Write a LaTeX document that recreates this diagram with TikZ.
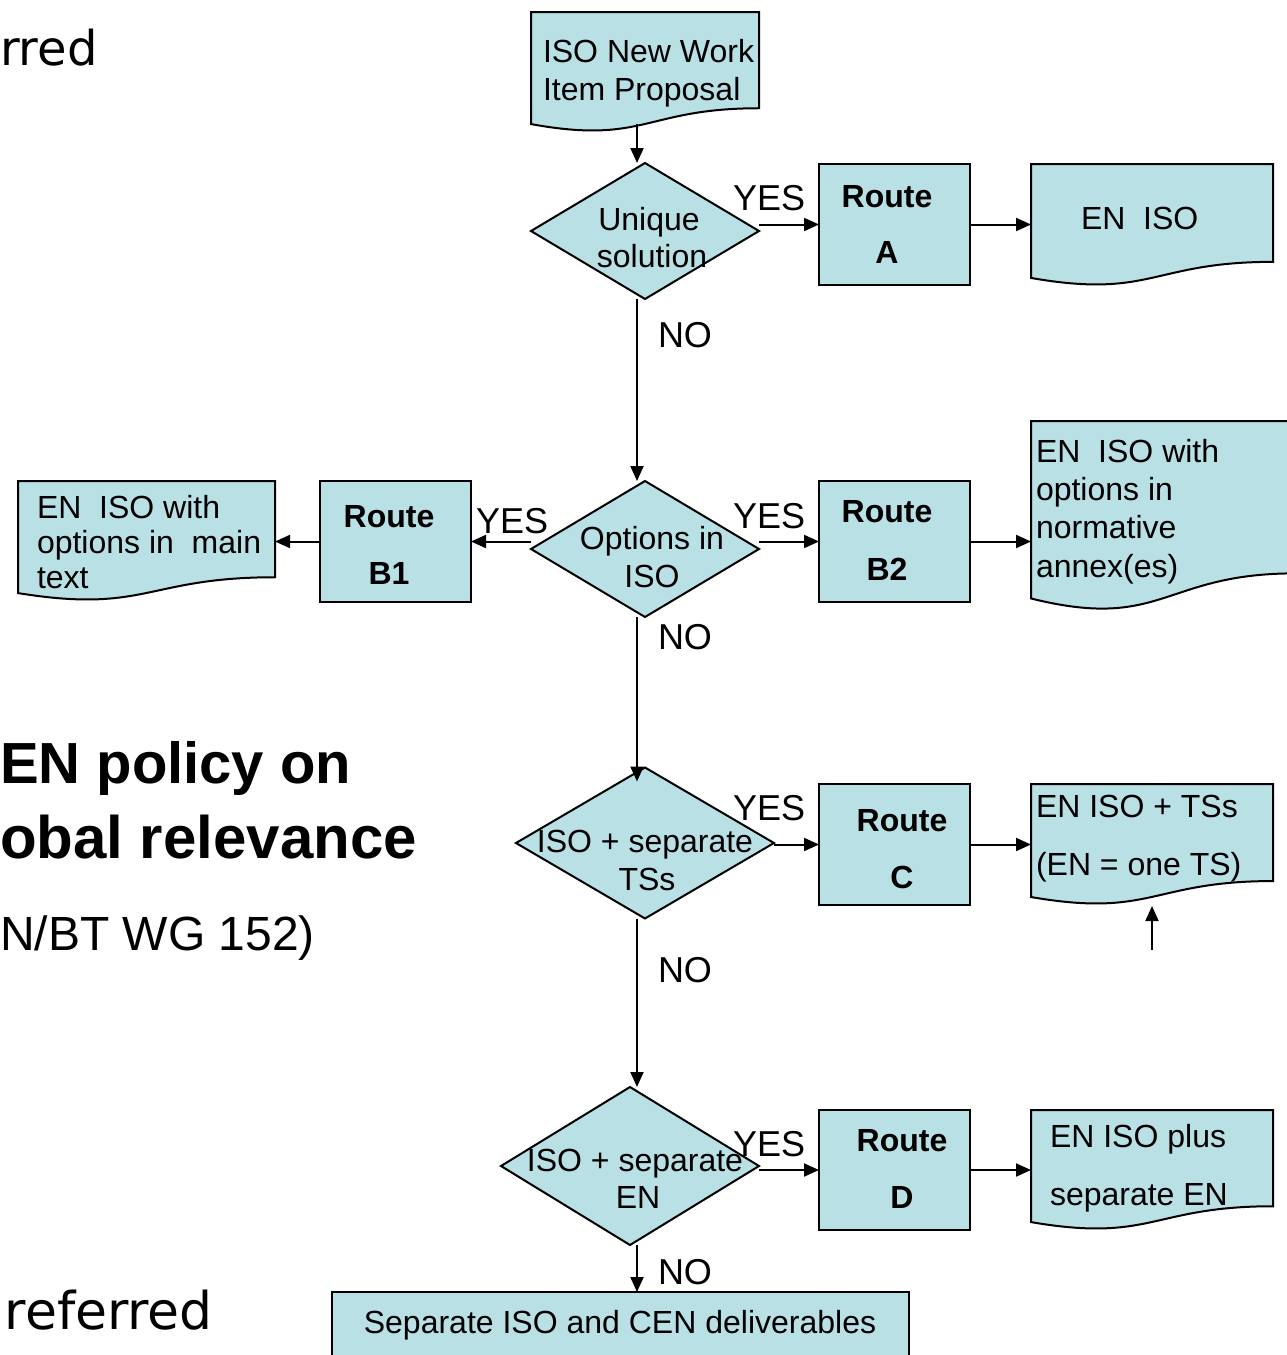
\documentclass[tikz,border=0pt]{standalone}
\usepackage{fontspec}
\setmainfont{Liberation Sans}
\newfontfamily\verdfont{DejaVu Sans}
\usetikzlibrary{arrows.meta,shapes.geometric,calc}
\definecolor{boxfill}{RGB}{185,224,228}

\newcommand\docshape[5]{%
  \filldraw[docst] (#2,#3) -- (#4,#3) -- (#4,{#3+0.802*#5})
    .. controls ({(#2+#4)/2},{#3+0.802*#5}) and ({(#2+#4)/2},{#3+1.1075*#5}) ..
    (#2,{#3+0.934*#5}) -- cycle;
  \node[minimum width={(#4-#2)*1pt}, minimum height={0.934*#5*1pt}, anchor=north west] (#1) at (#2,#3) {};
}

\begin{document}
\begin{tikzpicture}[x=1pt,y=-1pt,
  every node/.style={inner sep=0pt, outer sep=0pt},
  txt/.style={font=\fontsize{32}{38}\selectfont, anchor=base},
  txtw/.style={font=\fontsize{32}{38}\selectfont, anchor=base west},
  btxt/.style={font=\fontsize{32}{38}\selectfont\bfseries, anchor=base},
  lbl/.style={font=\fontsize{36}{40}\selectfont, anchor=base west},
  dia/.style={diamond, draw, fill=boxfill, line width=2pt},
  rbox/.style={rectangle, draw, fill=boxfill, line width=2pt},
  docst/.style={draw, fill=boxfill, line width=2pt},
  arr/.style={line width=2pt, -{Triangle[length=15pt,width=13pt]}},
  bgtxt/.style={anchor=base west}
]
\useasboundingbox (0,0) rectangle (1287,1355);
\clip (0,0) rectangle (1287,1355);

% background slide text
\node[bgtxt, font=\verdfont\fontsize{48}{56}\selectfont] (bg1) at (0,65) {rred};
\node[bgtxt, font=\fontsize{58}{66}\selectfont\bfseries] (bg2) at (0,783) {EN policy on};
\node[bgtxt, font=\fontsize{60}{68}\selectfont\bfseries] (bg3) at (0,858) {obal relevance};
\node[anchor=base east, font=\fontsize{48}{56}\selectfont] (bg4) at (315,950) {N/BT WG 152)};
\node[anchor=base east, font=\verdfont\fontsize{52}{60}\selectfont] (bg5) at (213,1329) {referred};

% documents
\docshape{doc1}{531}{12}{759}{120}
\node[txtw] (doc1a) at (543,62) {ISO New Work};
\node[txtw] (doc1b) at (543,100) {Item Proposal};

\docshape{docA}{1031}{164}{1273}{122}
\node[txtw] (docAa) at (1081,229) {EN\ \ ISO};

\docshape{docB1}{18}{481}{275}{120}
\node[txtw] (docB1a) at (37,518) {EN\ \ ISO with};
\node[txtw] (docB1b) at (37,553) {options in\ \ main};
\node[txtw] (docB1c) at (37,588) {text};

\docshape{docB2}{1031}{421}{1295}{190}
\node[txtw] (docB2a) at (1036,462) {EN\ \ ISO with};
\node[txtw] (docB2b) at (1036,500) {options in};
\node[txtw] (docB2c) at (1036,538) {normative};
\node[txtw] (docB2d) at (1036,577) {annex(es)};

\docshape{docC}{1031}{784}{1273}{121}
\node[txtw] (docCa) at (1036,817) {EN ISO + TSs};
\node[txtw] (docCb) at (1036,875) {(EN = one TS)};

\docshape{docD}{1031}{1110}{1273}{120}
\node[txtw] (docDa) at (1050,1147) {EN ISO plus};
\node[txtw] (docDb) at (1050,1205) {separate EN};

% diamonds
\node[dia, minimum width=228pt, minimum height=136pt] (d1) at (645,231) {};
\node[txt] (d1a) at (649,230) {Unique};
\node[txt] (d1b) at (652,267) {solution};

\node[dia, minimum width=228pt, minimum height=136pt] (d2) at (645,549) {};
\node[txt] (d2a) at (652,549) {Options in};
\node[txt] (d2b) at (652,587) {ISO};

\node[dia, minimum width=258pt, minimum height=151pt] (d3) at (645,843) {};
\node[txt] (d3a) at (645,852) {ISO + separate};
\node[txt] (d3b) at (647,890) {TSs};

\node[dia, minimum width=258pt, minimum height=158pt] (d4) at (630,1166) {};
\node[txt] (d4a) at (635,1171) {ISO + separate};
\node[txt] (d4b) at (638,1208) {EN};

% route boxes
\node[rbox, minimum width=151pt, minimum height=121pt] (rA) at (894.5,224.5) {};
\node[btxt] (rAa) at (887,207) {Route};
\node[btxt] (rAb) at (887,263) {A};

\node[rbox, minimum width=151pt, minimum height=121pt] (rB1) at (395.5,541.5) {};
\node[btxt] (rB1a) at (389,527) {Route};
\node[btxt] (rB1b) at (389,584) {B1};

\node[rbox, minimum width=151pt, minimum height=121pt] (rB2) at (894.5,541.5) {};
\node[btxt] (rB2a) at (887,522) {Route};
\node[btxt] (rB2b) at (887,580) {B2};

\node[rbox, minimum width=151pt, minimum height=121pt] (rC) at (894.5,844.5) {};
\node[btxt] (rCa) at (902,831) {Route};
\node[btxt] (rCb) at (902,888) {C};

\node[rbox, minimum width=151pt, minimum height=120pt] (rD) at (894.5,1170) {};
\node[btxt] (rDa) at (902,1151) {Route};
\node[btxt] (rDb) at (902,1208) {D};

% final box
\node[rbox, minimum width=577pt, minimum height=80pt, anchor=north] (final) at (620.5,1292) {};
\node[txt] (finala) at (620,1333) {Separate ISO and CEN deliverables};

% labels
\node[lbl] (y1) at (733,210) {YES};
\node[lbl] (y2) at (733,528) {YES};
\node[lbl] (y2l) at (476,533) {YES};
\node[lbl] (y3) at (733,820) {YES};
\node[lbl] (y4) at (733,1156) {YES};
\node[lbl] (n1) at (658,347) {NO};
\node[lbl] (n2) at (658,649) {NO};
\node[lbl] (n3) at (658,982) {NO};
\node[lbl] (n4) at (658,1284) {NO};

% connectors
\coordinate (spine) at (637,0);
\draw[arr] (doc1.south -| spine) -- (d1.north -| spine);
\draw[arr] (d1.south -| spine) -- (d2.north -| spine);
\draw[arr] (d2.south -| spine) -- ($(d3.north -| spine)+(0,14)$);
\draw[arr] (d3.south -| spine) -- (d4.north -| spine);
\draw[arr] (d4.south -| spine) -- (final.north -| spine);

\draw[arr] (d1.east |- rA.west) -- (rA.west);
\draw[arr] (rA.east) -- (rA.east -| docA.west);
\draw[arr] (d2.east |- rB2.west) -- (rB2.west);
\draw[arr] (rB2.east) -- (rB2.east -| docB2.west);
\draw[arr] (d2.west |- rB1.east) -- (rB1.east);
\draw[arr] (rB1.west) -- (rB1.west -| docB1.east);
\draw[arr] (d3.east |- rC.west) -- (rC.west);
\draw[arr] (rC.east) -- (rC.east -| docC.west);
\draw[arr] (d4.east |- rD.west) -- (rD.west);
\draw[arr] (rD.east) -- (rD.east -| docD.west);

\coordinate (upS) at (1152,950);
\coordinate (upE) at (1152,906);
\draw[arr] (upS) -- (upE);
\end{tikzpicture}
\end{document}
